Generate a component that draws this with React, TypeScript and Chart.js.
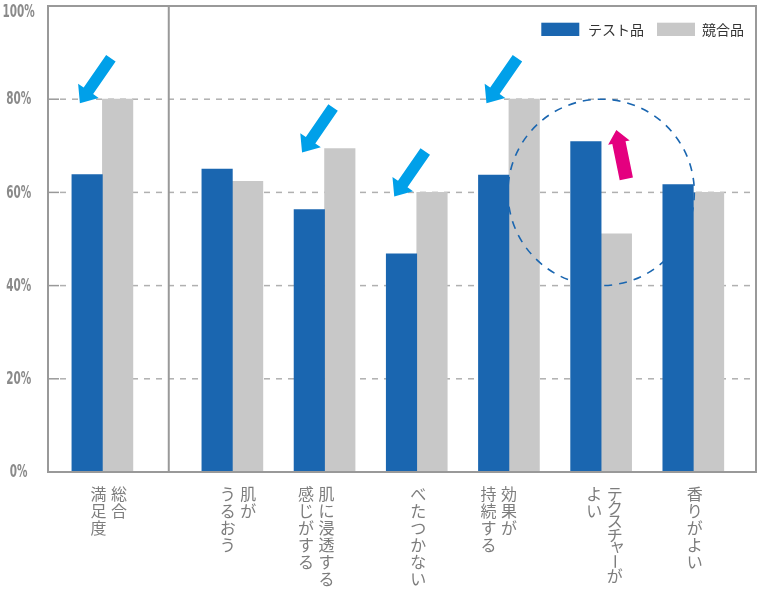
import React, { useEffect, useRef } from 'react';
import { Chart, registerables } from 'chart.js';

Chart.register(...registerables);

// ---------------- data ----------------
// Each category label is written vertically; columns are listed right-to-left.
const categoryLabels: string[][] = [
  ['総合', '満足度'],
  ['肌が', 'うるおう'],
  ['肌に浸透する', '感じがする'],
  ['べたつかない'],
  ['効果が', '持続する'],
  ['テクスチャーが', 'よい'],
  ['香りがよい'],
];
const seriesNames = ['テスト品', '競合品'];
const testProduct = [63.8, 65.0, 56.3, 46.8, 63.7, 70.9, 61.7];
const competitor = [80, 62.4, 69.4, 60, 80, 51.1, 60];
const yTickValues = [0, 20, 40, 60, 80, 100];

// annotations
const competitorLeadCategories = [0, 2, 3, 4]; // blue arrows
const testLeadCategory = 5; // magenta arrow + dashed circle
const circleCenterValue = 60;
const circleRadiusValue = 20;

// ---------------- layout / style ----------------
const COLOR_TEST = '#1a66b0';
const COLOR_COMP = '#c8c8c8';
const COLOR_FRAME = '#999999';
const COLOR_GRID = '#b0b0b0';
const COLOR_AXIS_TEXT = '#8a8a8a';
const COLOR_LABEL_TEXT = '#7d7d7d';
const COLOR_BLUE_ARROW = '#00a0e9';
const COLOR_PINK_ARROW = '#e4007f';
const FIRST_GAP = 0.41; // extra space after the overall-satisfaction group
const X_MIN = -0.59;
const X_MAX = 7.09;
const SEPARATOR_AT = 0.72;
const LABEL_SHIFT = [16.5, 16, 2, 1.5, 0, 13.5, 1.5];
const COLUMN_GAP = 20.5;

const xPos = (i: number) => (i === 0 ? 0 : i + FIRST_GAP);

function drawArrow(
  ctx: CanvasRenderingContext2D,
  tipX: number, tipY: number, tailX: number, tailY: number,
  shaftW: number, headW: number, headL: number, color: string,
) {
  const dx = tailX - tipX;
  const dy = tailY - tipY;
  const len = Math.hypot(dx, dy);
  const ux = dx / len, uy = dy / len;
  const nx = -uy, ny = ux;
  const bx = tipX + ux * headL, by = tipY + uy * headL;
  ctx.save();
  ctx.fillStyle = color;
  ctx.beginPath();
  ctx.moveTo(tipX, tipY);
  ctx.lineTo(bx + nx * headW / 2, by + ny * headW / 2);
  ctx.lineTo(bx + nx * shaftW / 2, by + ny * shaftW / 2);
  ctx.lineTo(tailX + nx * shaftW / 2, tailY + ny * shaftW / 2);
  ctx.lineTo(tailX - nx * shaftW / 2, tailY - ny * shaftW / 2);
  ctx.lineTo(bx - nx * shaftW / 2, by - ny * shaftW / 2);
  ctx.lineTo(bx - nx * headW / 2, by - ny * headW / 2);
  ctx.closePath();
  ctx.fill();
  ctx.restore();
}

function drawColumn(ctx: CanvasRenderingContext2D, text: string, cx: number, top: number) {
  let y = top;
  for (const ch of Array.from(text)) {
    const kata = /[\u30A1-\u30FA]/.test(ch);
    const small = /[ァィゥェォッャュョヮぁぃぅぇぉっゃゅょゎ]/.test(ch);
    const adv = ch === 'ー' ? 14 : kata ? 13.5 : 17;
    ctx.save();
    if (ch === 'ー') {
      ctx.translate(cx, y + adv / 2 + 1);
      ctx.rotate(Math.PI / 2);
      ctx.textBaseline = 'middle';
      ctx.fillText(ch, 0, 0);
    } else if (small) {
      ctx.textBaseline = 'top';
      ctx.fillText(ch, cx + 2.5, y - 3.5);
    } else {
      ctx.textBaseline = 'top';
      ctx.fillText(ch, cx, y);
    }
    ctx.restore();
    y += adv;
  }
}

const overlayPlugin = {
  id: 'overlay',
  beforeDatasetsDraw(chart: any) {
    const { ctx, chartArea } = chart;
    const yScale = chart.scales.y;
    ctx.save();
    ctx.strokeStyle = COLOR_GRID;
    ctx.lineWidth = 1.5;
    ctx.setLineDash([6, 6]);
    for (const v of yTickValues) {
      const y = yScale.getPixelForValue(v);
      ctx.beginPath();
      ctx.moveTo(chartArea.left + 12, y);
      ctx.lineTo(chartArea.right, y);
      ctx.stroke();
    }
    ctx.restore();
  },
  afterDatasetDraw(chart: any, args: any) {
    if (args.index !== 1) return;
    const { ctx } = chart;
    const xScale = chart.scales.x;
    const yScale = chart.scales.y;
    const cx = xScale.getPixelForValue(xPos(testLeadCategory));
    const cy = yScale.getPixelForValue(circleCenterValue);
    const r = yScale.getPixelForValue(0) - yScale.getPixelForValue(circleRadiusValue);
    ctx.save();
    ctx.strokeStyle = COLOR_TEST;
    ctx.lineWidth = 1.6;
    ctx.setLineDash([8, 7]);
    ctx.beginPath();
    ctx.arc(cx, cy, r, 0, Math.PI * 2);
    ctx.stroke();
    ctx.restore();
  },
  afterDatasetsDraw(chart: any) {
    const { ctx } = chart;
    const compMeta = chart.getDatasetMeta(1);
    const testMeta = chart.getDatasetMeta(0);
    for (const i of competitorLeadCategories) {
      const bar = compMeta.data[i];
      const tipX = bar.x - bar.width / 2 - 22.5;
      const tipY = bar.y + 4;
      drawArrow(ctx, tipX, tipY, tipX + 31, tipY - 45, 11.5, 25, 15, COLOR_BLUE_ARROW);
    }
    const tb = testMeta.data[testLeadCategory];
    const tX = tb.x + tb.width / 2 + 15.2;
    const tY = tb.y - 11.7;
    drawArrow(ctx, tX, tY, tX + 10, tY + 49, 13.5, 22, 13, COLOR_PINK_ARROW);
  },
  afterDraw(chart: any) {
    const { ctx, chartArea } = chart;
    const xScale = chart.scales.x;
    const yScale = chart.scales.y;
    ctx.save();
    // inner solid tick marks
    ctx.strokeStyle = COLOR_FRAME;
    ctx.lineWidth = 1.5;
    for (const v of yTickValues) {
      const y = yScale.getPixelForValue(v);
      ctx.beginPath();
      ctx.moveTo(chartArea.left, y);
      ctx.lineTo(chartArea.left + 11, y);
      ctx.stroke();
    }
    // frame
    ctx.lineWidth = 2;
    ctx.strokeRect(chartArea.left, chartArea.top, chartArea.right - chartArea.left, chartArea.bottom - chartArea.top);
    // separator
    const sx = xScale.getPixelForValue(SEPARATOR_AT);
    ctx.beginPath();
    ctx.moveTo(sx, chartArea.top);
    ctx.lineTo(sx, chartArea.bottom);
    ctx.stroke();

    // y tick labels (condensed)
    ctx.fillStyle = COLOR_AXIS_TEXT;
    ctx.font = 'bold 18px "DejaVu Sans"';
    ctx.textAlign = 'center';
    ctx.textBaseline = 'middle';
    for (const v of yTickValues) {
      const y = Math.max(12, yScale.getPixelForValue(v) + 0.5);
      ctx.save();
      ctx.translate(18.7, y);
      ctx.scale(0.58, 1);
      ctx.fillText(`${v}%`, 0, 0);
      ctx.restore();
    }

    // x category labels (vertical)
    ctx.fillStyle = COLOR_LABEL_TEXT;
    ctx.font = '16px "Noto Sans CJK JP"';
    ctx.textAlign = 'center';
    categoryLabels.forEach((cols, i) => {
      const cx = xScale.getPixelForValue(xPos(i)) + LABEL_SHIFT[i];
      cols.forEach((col, c) => {
        drawColumn(ctx, col, cx - c * COLUMN_GAP, chartArea.bottom + 14);
      });
    });

    // legend
    ctx.font = '14px "Noto Sans CJK JP"';
    ctx.textAlign = 'left';
    ctx.textBaseline = 'middle';
    const colors = [COLOR_TEST, COLOR_COMP];
    const w0 = ctx.measureText(chart.data.datasets[0].label).width;
    const w1 = ctx.measureText(chart.data.datasets[1].label).width;
    const legendY = chartArea.top + 16.7;
    const text2 = chartArea.right - 12 - w1;
    const box2 = text2 - 7 - 38;
    const text1 = box2 - 13 - w0;
    const box1 = text1 - 8.7 - 38;
    ctx.fillStyle = colors[0];
    ctx.fillRect(box1, legendY, 38, 13.3);
    ctx.fillStyle = colors[1];
    ctx.fillRect(box2, legendY, 38, 13.3);
    ctx.fillStyle = '#333333';
    ctx.fillText(chart.data.datasets[0].label, text1, legendY + 7);
    ctx.fillText(chart.data.datasets[1].label, text2, legendY + 7);
    ctx.restore();
  },
};

export default function App() {
  const canvasRef = useRef<HTMLCanvasElement | null>(null);

  useEffect(() => {
    if (!canvasRef.current) return;
    const chart = new Chart(canvasRef.current, {
      type: 'bar',
      data: {
        datasets: [
          {
            label: seriesNames[0],
            data: testProduct.map((v, i) => ({ x: xPos(i), y: v })),
            backgroundColor: COLOR_TEST,
            barThickness: 30.5,
          },
          {
            label: seriesNames[1],
            data: competitor.map((v, i) => ({ x: xPos(i), y: v })),
            backgroundColor: COLOR_COMP,
            barThickness: 30.5,
          },
        ],
      },
      options: {
        responsive: false,
        animation: false,
        devicePixelRatio: 1,
        layout: { padding: { left: 48, right: 4, top: 6, bottom: 124 } },
        plugins: { legend: { display: false }, tooltip: { enabled: false } },
        scales: {
          x: { type: 'linear', min: X_MIN, max: X_MAX, offset: false, display: false },
          y: { type: 'linear', min: 0, max: 100, display: false },
        },
      },
      plugins: [overlayPlugin],
    } as any);
    return () => chart.destroy();
  }, []);

  return (
    <div style={{ position: 'fixed', left: 0, top: 0, width: 760, height: 596, background: '#fff' }}>
      <canvas ref={canvasRef} width={760} height={596} />
    </div>
  );
}
